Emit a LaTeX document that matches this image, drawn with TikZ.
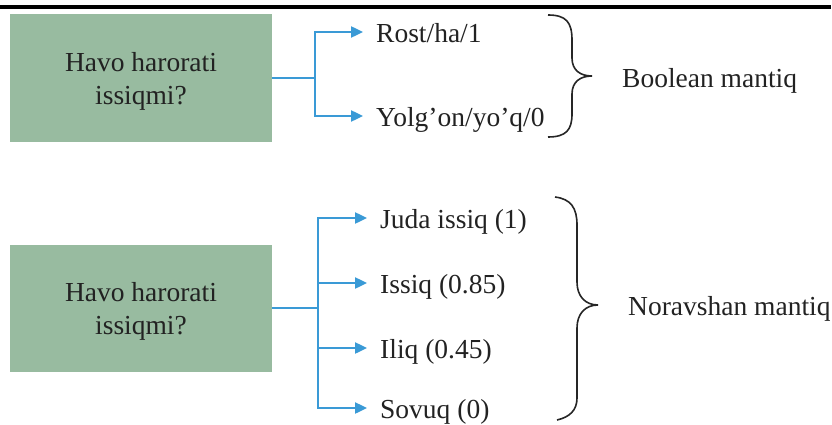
\documentclass[tikz,border=0pt]{standalone}
\usepackage{fontspec}
\setmainfont{Liberation Serif}
\usetikzlibrary{arrows.meta}
\definecolor{boxgreen}{HTML}{98BBA0}
\definecolor{conblue}{HTML}{3A9AD6}
\definecolor{txt}{HTML}{222222}
\begin{document}
\begin{tikzpicture}[x=1pt,y=-1pt,
  every node/.style={font=\fontsize{27.5}{33}\selectfont, text=txt},
  qbox/.style={fill=boxgreen, draw=none, minimum width=262pt, minimum height=127pt, inner sep=0pt},
  qtext/.style={align=center, inner sep=0pt},
  lbl/.style={anchor=west, inner sep=0pt, text height=21pt, text depth=0pt},
  conn/.style={draw=conblue, line width=2.4pt},
  arr/.style={conn, -{Triangle[length=12pt,width=11pt]}, shorten >=13pt},
  brace/.style={draw=black!85, line width=1.6pt}]
\useasboundingbox (0,0) rectangle (832,425);
\fill[black] (0,5) rectangle (831,9);

% top group
\node[qbox] (q1) at (141,78) {};
\node[qtext] (q1t) at (141,81) {Havo harorati\\issiqmi?};
\coordinate (j1) at (315,78);
\node[lbl] (rost) at (376,32) {Rost/ha/1};
\node[lbl] (yolg) at (376,116) {Yolg’on/yo’q/0};
\draw[conn] (q1.east) -- (j1);
\draw[arr] (j1) |- (rost.west);
\draw[arr] (j1) |- (yolg.west);
\draw[brace] (548,15) .. controls (566,15) and (572,22) .. (572,40) -- (572,58)
  .. controls (572,70) and (580,76) .. (592,76)
  .. controls (580,76) and (572,82) .. (572,94) -- (572,114)
  .. controls (572,130) and (566,137) .. (548,137);
\node[lbl] (bool) at (622,77) {Boolean mantiq};

% bottom group
\node[qbox] (q2) at (141,308) {};
\node[qtext] (q2t) at (141,311) {Havo harorati\\issiqmi?};
\coordinate (j2) at (318,308);
\node[lbl] (juda) at (380,218) {Juda issiq (1)};
\node[lbl] (issiq) at (380,283) {Issiq (0.85)};
\node[lbl] (iliq) at (380,348) {Iliq (0.45)};
\node[lbl] (sovuq) at (380,408) {Sovuq (0)};
\draw[conn] (q2.east) -- (j2);
\draw[arr] (j2) |- (juda.west);
\draw[arr] (j2) |- (issiq.west);
\draw[arr] (j2) |- (iliq.west);
\draw[arr] (j2) |- (sovuq.west);
\draw[brace] (555,197) .. controls (571,199) and (577,208) .. (577,225) -- (577,282)
  .. controls (577,296) and (585,305) .. (598,305)
  .. controls (585,305) and (577,314) .. (577,328) -- (577,398)
  .. controls (577,410) and (570,417) .. (557,420);
\node[lbl] (nor) at (628,305) {Noravshan mantiq};
\end{tikzpicture}
\end{document}
